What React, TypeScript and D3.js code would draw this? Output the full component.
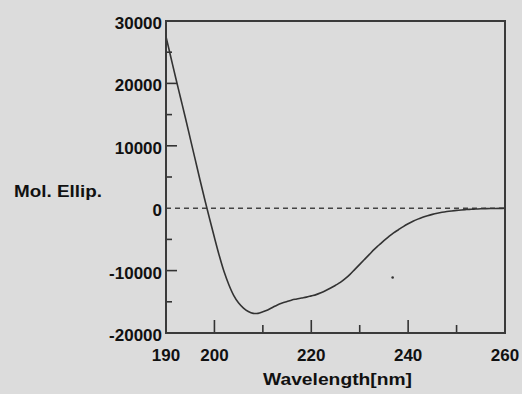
import React from "react";
import * as d3 from "d3";

const wavelengths = [
  190, 191, 192, 193, 194, 195, 196, 197, 198, 199, 200, 201, 202, 203, 204, 205, 206, 207, 208, 209,
  210, 211, 212, 213, 214, 215, 216, 217, 218, 219, 220, 221, 222, 223, 224, 225, 226, 227, 228, 229,
  230, 231, 232, 233, 234, 235, 236, 237, 238, 239, 240, 241, 242, 243, 244, 245, 246, 247, 248, 249,
  250, 251, 252, 253, 254, 255, 256, 257, 258, 259, 260,
];
const ellipticity = [
  27500, 24200, 20900, 17700, 14500, 11200, 7900, 4600, 1400, -1700, -4700, -7600, -10200, -12300, -14000, -15200, -16000, -16550, -16850, -16850,
  -16600, -16300, -15900, -15500, -15200, -14950, -14700, -14550, -14400, -14250, -14050, -13850, -13550, -13200, -12800, -12350, -11900, -11300, -10600, -9800,
  -9000, -8200, -7400, -6600, -5900, -5200, -4550, -3950, -3450, -2950, -2500, -2100, -1750, -1450, -1200, -990, -810, -660, -540, -440,
  -350, -280, -220, -170, -130, -100, -75, -55, -40, -25, -15,
];

const xTickLabels = [190, 200, 220, 240, 260];
const xMajorTicks = [200, 220, 240];
const xMinorTicks = [210, 230, 250];
const yTickLabels = [30000, 20000, 10000, 0, -10000, -20000];
const yMajorTicks = [20000, 10000, -10000];
const yMinorTicks = [25000, 15000, 5000, -5000, -15000];
const strayPoint = { wl: 236.8, val: -11100 };

const xTitle = "Wavelength[nm]";
const yTitle = "Mol. Ellip.";

const W = 522;
const H = 394;
const FONT = "'Liberation Sans', Arial, Helvetica, sans-serif";
const INK = "#333";

export default function App() {
  const x = d3.scaleLinear().domain([190, 260]).range([166, 505]);
  const y = d3.scaleLinear().domain([-20000, 30000]).range([333, 21]);
  const pts = wavelengths.map((w, i) => [w, ellipticity[i]] as [number, number]);
  const line = d3
    .line<[number, number]>()
    .x((d) => x(d[0]))
    .y((d) => y(d[1]))
    .curve(d3.curveCatmullRom.alpha(0.5));

  return (
    <div style={{ position: "fixed", left: 0, top: 0 }}>
      <svg width={W} height={H} style={{ display: "block" }}>
        <rect x={0} y={0} width={W} height={H} fill="#dcdcdc" />
        <line
          x1={x(190)}
          x2={x(260)}
          y1={y(0)}
          y2={y(0)}
          stroke="#444"
          strokeWidth={1.6}
          strokeDasharray="5,4"
        />
        <path d={line(pts) || ""} fill="none" stroke={INK} strokeWidth={1.6} />
        <circle cx={x(strayPoint.wl)} cy={y(strayPoint.val)} r={1.3} fill={INK} />
        {yMajorTicks.map((t) => (
          <line key={"ym" + t} x1={x(190)} x2={x(190) + 11} y1={y(t)} y2={y(t)} stroke={INK} strokeWidth={1.6} />
        ))}
        {yMinorTicks.map((t) => (
          <line key={"yn" + t} x1={x(190)} x2={x(190) + 6} y1={y(t)} y2={y(t)} stroke={INK} strokeWidth={1.6} />
        ))}
        {xMajorTicks.map((t) => (
          <line key={"xm" + t} x1={x(t)} x2={x(t)} y1={y(-20000)} y2={y(-20000) - 13} stroke={INK} strokeWidth={1.6} />
        ))}
        {xMinorTicks.map((t) => (
          <line key={"xn" + t} x1={x(t)} x2={x(t)} y1={y(-20000)} y2={y(-20000) - 8} stroke={INK} strokeWidth={1.6} />
        ))}
        <rect
          x={x(190)}
          y={y(30000)}
          width={x(260) - x(190)}
          height={y(-20000) - y(30000)}
          fill="none"
          stroke="#3a3a3a"
          strokeWidth={2}
        />
        {yTickLabels.map((t) => (
          <text
            key={"yl" + t}
            x={x(190) - 4}
            y={y(t) + 8}
            textAnchor="end"
            fontFamily={FONT}
            fontWeight="bold"
            fontSize={17}
            fill="#111"
          >
            {t < 0 ? "-" + Math.abs(t) : String(t)}
          </text>
        ))}
        {xTickLabels.map((t) => (
          <text
            key={"xl" + t}
            x={x(t)}
            y={361}
            textAnchor="middle"
            fontFamily={FONT}
            fontWeight="bold"
            fontSize={17}
            fill="#111"
          >
            {t}
          </text>
        ))}
        <text
          x={263}
          y={385}
          fontFamily={FONT}
          fontWeight="bold"
          fontSize={17}
          textLength={149}
          lengthAdjust="spacingAndGlyphs"
          fill="#111"
        >
          {xTitle}
        </text>
        <text
          x={14}
          y={197}
          fontFamily={FONT}
          fontWeight="bold"
          fontSize={17}
          textLength={88}
          lengthAdjust="spacingAndGlyphs"
          fill="#111"
        >
          {yTitle}
        </text>
      </svg>
    </div>
  );
}
